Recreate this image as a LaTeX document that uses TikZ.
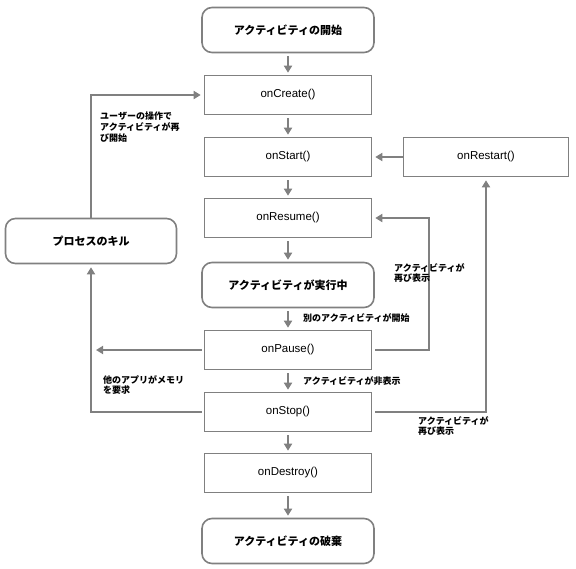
\documentclass[tikz,border=0pt]{standalone}
\usepackage{fontspec}
\setmainfont{Liberation Sans}
\newfontfamily\jpfont{Noto Sans CJK JP}
\usepackage{tikz}
\usetikzlibrary{arrows.meta}
\definecolor{linegray}{HTML}{808080}
\tikzset{method/.style={draw=linegray, line width=1.6pt, minimum width=167pt, minimum height=39pt, font=\fontsize{11.5}{13}\selectfont},
%rounded boxes for the states
state/.style={draw=linegray, line width=1.6pt, rounded corners=10pt, minimum width=172pt, minimum height=45pt, font=\jpfont\bfseries\fontsize{11}{13}\selectfont},
flow/.style={draw=linegray, line width=1.8pt, -{Triangle[length=7pt,width=8pt]}},
note/.style={font=\jpfont\bfseries\fontsize{9}{10.8}\selectfont, align=left, anchor=north west, inner sep=0pt}}

\begin{document}
\begin{tikzpicture}[x=1pt,y=-1pt]
\useasboundingbox (0,0) rectangle (576,568);
% main column
\node[state] (begin) at (288,30) {アクティビティの開始};
\node[method] (create) at (288,95) {onCreate()};
\node[method] (start) at (288,157) {onStart()};
\node[method] (resume) at (288,218) {onResume()};
\node[state] (running) at (288,285) {アクティビティが実行中};
\node[method] (pause) at (288,350) {onPause()};
\node[method] (stop) at (288,412) {onStop()};
\node[method] (destroy) at (288,473) {onDestroy()};
\node[state] (finish) at (288,541) {アクティビティの破棄};

% side boxes
\node[state, minimum width=171pt] (kill) at (91,241) {プロセスのキル};
\node[method, minimum width=165pt] (restart) at (486,157) {onRestart()};
\coordinate (memory) at (96,350);

% down the column
\foreach \a/\b in {begin/create, create/start, start/resume, resume/running, running/pause, pause/stop, stop/destroy, destroy/finish}
     \draw[flow, shorten <=3pt, shorten >=2pt] (\a) -- (\b);

% loops back
\draw[flow, shorten >=3pt] (kill.north) |- (create.west);
\draw[flow, shorten <=2pt, shorten >=3pt] (stop.west) -| (kill.south);
\draw[flow, shorten <=2pt] (pause.west) -- (memory);
\draw[flow, shorten <=3pt, shorten >=3pt] (pause.east) -| ([xshift=57pt]resume.east) -- (resume.east);
\draw[flow, shorten <=3pt, shorten >=3pt] (stop.east) -| (restart.south);
\draw[flow, shorten >=3pt] (restart.west) -- (start.east);

%labels
\node[note] (userlbl) at (100,112) {ユーザーの操作で\\アクティビティが再\\び開始};
\node[note] (memlbl) at (103,375) {他のアプリがメモリ\\を要求};
\node[note] (showlbl) at (394,263) {アクティビティが\\再び表示};
\node[note] (againlbl) at (418,416) {アクティビティが\\再び表示};
\node[note] (otherlbl) at (303,313) {別のアクティビティが開始};
\node[note] (hiddenlbl) at (303,376) {アクティビティが非表示};

\end{tikzpicture}
\end{document}
